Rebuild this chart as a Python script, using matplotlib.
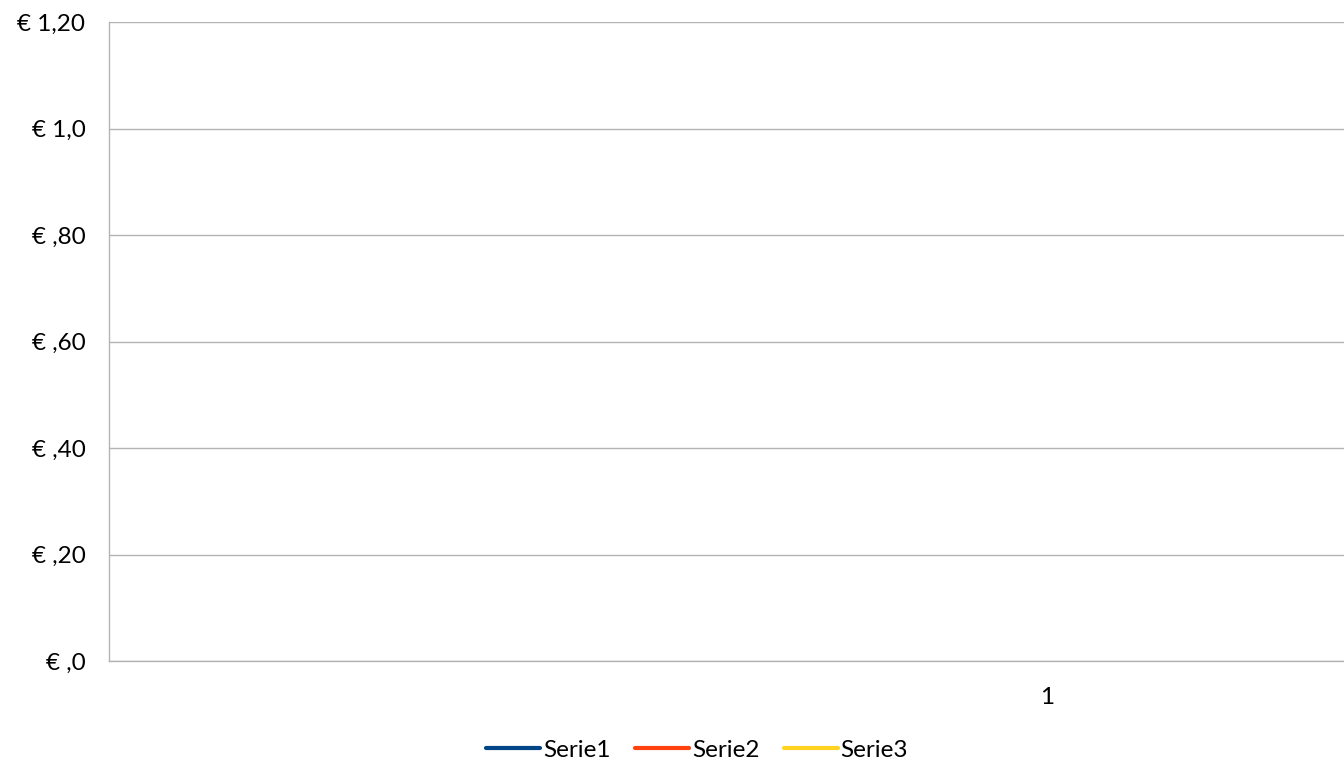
import numpy as np
import matplotlib
matplotlib.use("Agg")
import matplotlib.pyplot as plt

# Data (the reference shows no plotted values)
categories = ["1"]
serie1 = [np.nan]
serie2 = [np.nan]
serie3 = [np.nan]
series_names = ["Serie1", "Serie2", "Serie3"]
y_ticks = [0.0, 0.2, 0.4, 0.6, 0.8, 1.0, 1.2]
y_tick_labels = ["€ ,0", "€ ,20", "€ ,40", "€ ,60", "€ ,80", "€ 1,0", "€ 1,20"]

plt.rcParams['font.family'] = ['Lato', 'DejaVu Sans']

fig = plt.figure(figsize=(13.44, 7.68), dpi=100)
ax = fig.add_axes([109/1344, (768-661)/768, 1 - 109/1344, (661-22)/768])

x = np.arange(1, len(categories) + 1)
colors = ["#004586", "#ff420e", "#ffd320"]
for vals, name, c in zip([serie1, serie2, serie3], series_names, colors):
    ax.plot(x, vals, color=c, lw=3, label=name, solid_capstyle='round')

ax.set_ylim(0, 1.2)
ax.set_xlim(0.5, 0.5 + 0.5 * 1235 / 938)
ax.set_yticks(y_ticks)
ax.set_yticklabels(y_tick_labels)
ax.set_xticks(x)
ax.set_xticklabels(categories)
ax.tick_params(axis='both', length=0, labelsize=17.5, colors='#000000')
ax.tick_params(axis='y', pad=17)
ax.tick_params(axis='x', pad=19)

ax.grid(axis='y', color='#b3b3b3', lw=1)
ax.set_axisbelow(True)
for s in ['top', 'right']:
    ax.spines[s].set_visible(False)
for s in ['left', 'bottom']:
    ax.spines[s].set_color('#b3b3b3')
    ax.spines[s].set_linewidth(1)

handles, labels = ax.get_legend_handles_labels()
fig.legend(handles, labels, loc='center', bbox_to_anchor=(697/1344, 1 - 750/768),
           ncol=3, frameon=False, fontsize=17.5, handlelength=2.25, handletextpad=0.1,
           columnspacing=1.0)

fig.savefig("out.png", dpi=100)
